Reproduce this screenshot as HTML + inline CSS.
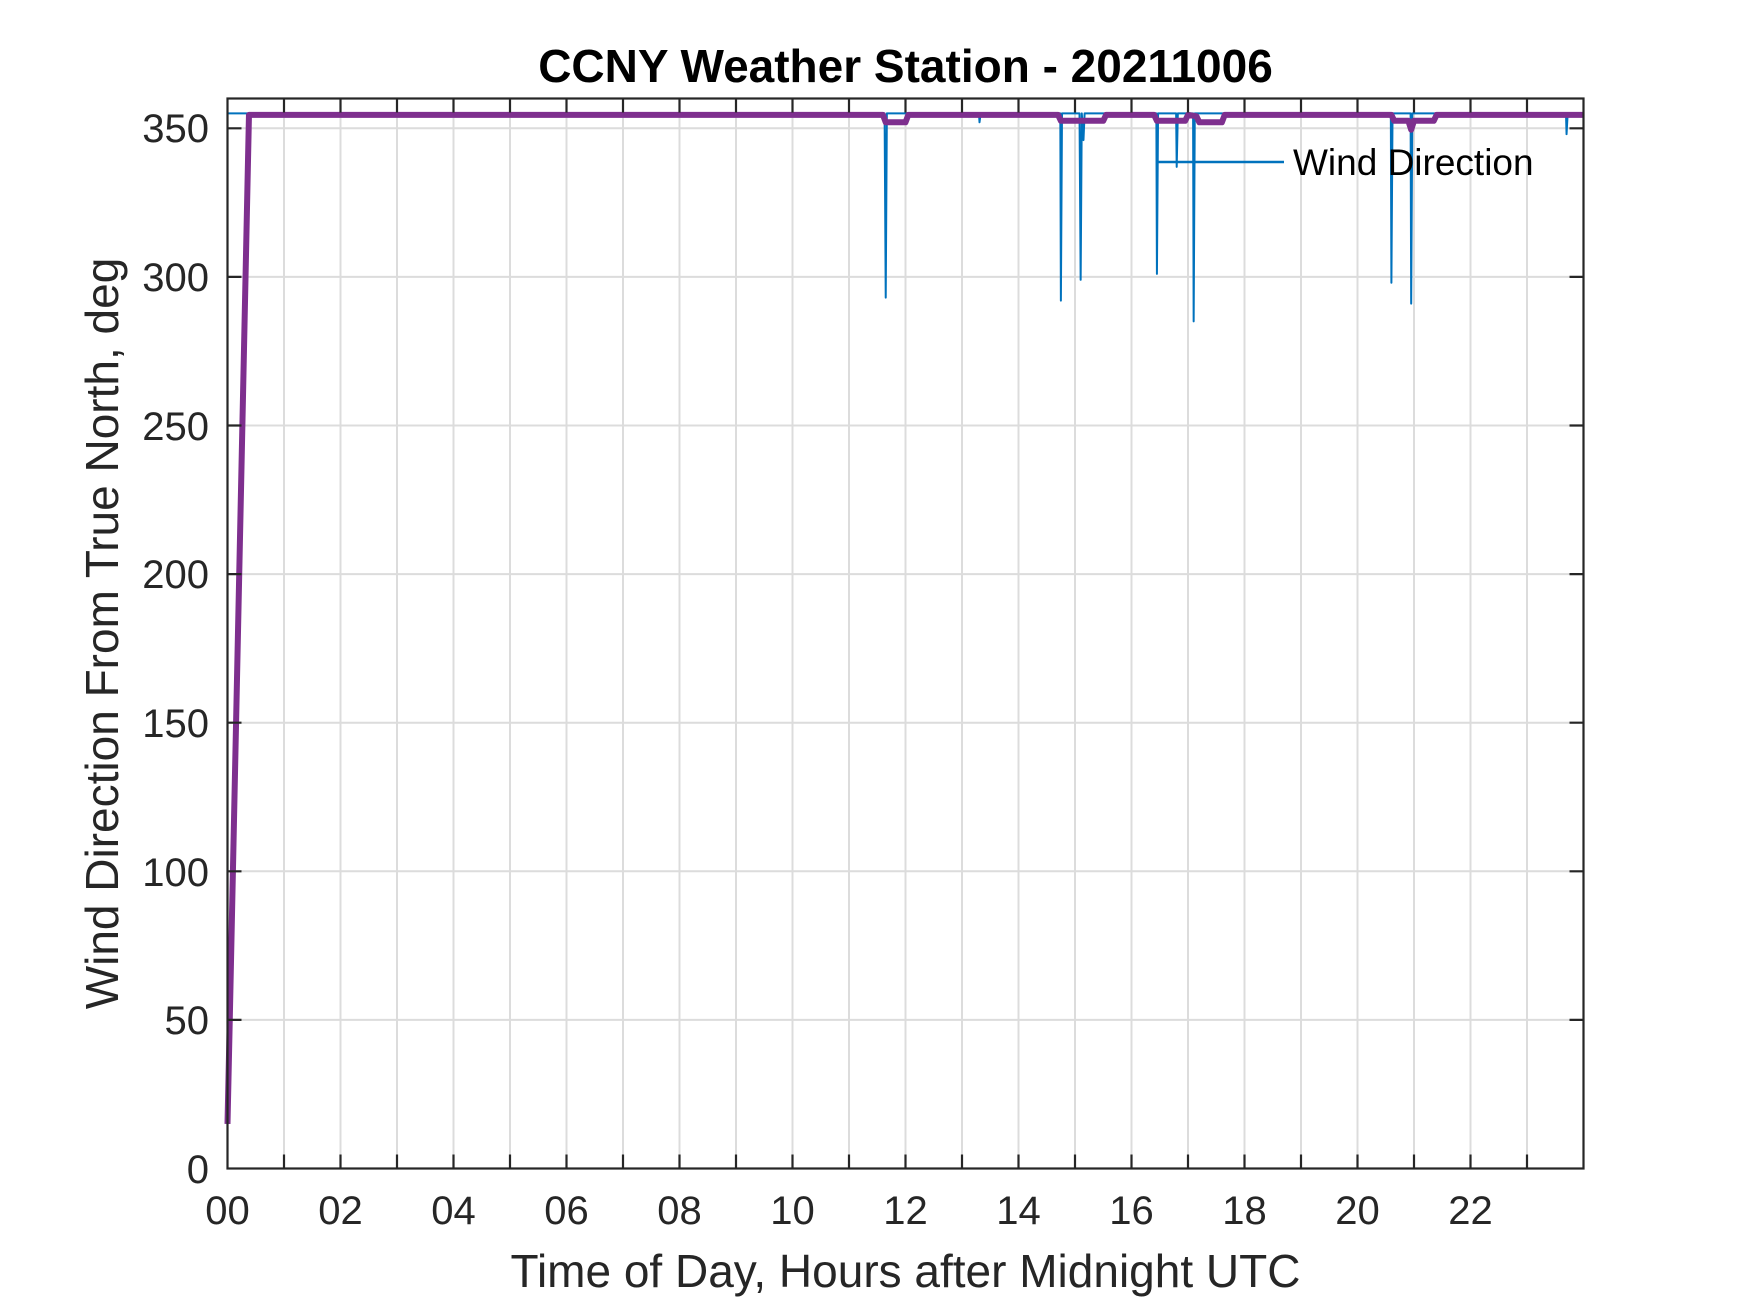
<!DOCTYPE html>
<html><head><meta charset="utf-8"><style>
html,body{margin:0;padding:0;background:#fff;}
svg{display:block;font-family:"Liberation Sans",Arial,sans-serif;}
</style></head><body>
<svg width="1750" height="1313" viewBox="0 0 1750 1313" xmlns="http://www.w3.org/2000/svg">
<rect width="1750" height="1313" fill="#fff"/>
<g stroke="#dcdcdc" stroke-width="2">
<path d="M284 98.5V1168.5M340.5 98.5V1168.5M397 98.5V1168.5M453.5 98.5V1168.5M510 98.5V1168.5M566.5 98.5V1168.5M623 98.5V1168.5M679.5 98.5V1168.5M736 98.5V1168.5M792.5 98.5V1168.5M849 98.5V1168.5M905.5 98.5V1168.5M962 98.5V1168.5M1018.5 98.5V1168.5M1075 98.5V1168.5M1131.5 98.5V1168.5M1188 98.5V1168.5M1244.5 98.5V1168.5M1301 98.5V1168.5M1357.5 98.5V1168.5M1414 98.5V1168.5M1470.5 98.5V1168.5M1527 98.5V1168.5"/>
<path d="M227.5 1019.9H1583.5M227.5 871.3H1583.5M227.5 722.7H1583.5M227.5 574.1H1583.5M227.5 425.5H1583.5M227.5 276.9H1583.5M227.5 128.3H1583.5"/>
</g>
<g transform="translate(227.5,1168.5) scale(56.5,-2.9722)" fill="none" stroke-linejoin="round">
<polyline vector-effect="non-scaling-stroke" stroke="#0072BD" stroke-width="2" points="0,355 0.4,355 11.63,355 11.65,293 11.67,355 13.3,355 13.31,352 13.33,355 14.74,355 14.75,292 14.77,355 15.08,355 15.1,299 15.12,355 15.15,346 15.17,355 16.44,355 16.45,301 16.47,355 16.79,355 16.8,337 16.82,355 17.09,355 17.1,285 17.12,355 20.59,355 20.6,298 20.62,355 20.94,355 20.95,291 20.97,355 23.69,355 23.7,348 23.72,355 24,355"/>
<polyline vector-effect="non-scaling-stroke" stroke="#7E2F8E" stroke-width="6" points="0,15 0.04,50 0.38,354.5 11.6,354.5 11.65,352 12.0,352 12.05,354.5 14.7,354.5 14.75,352.5 15.5,352.5 15.55,354.5 16.4,354.5 16.45,352.5 16.95,352.5 17.0,354.5 17.15,354 17.2,352 17.6,352 17.65,354.5 20.6,354.5 20.65,352.5 20.9,352.5 20.95,349.5 21.0,352.5 21.35,352.5 21.4,354.5 24,354.5"/>
</g>
<g stroke="#262626" stroke-width="2.2" fill="none">
<rect x="227.5" y="98.5" width="1356" height="1070"/>
<path d="M284 1168.5v-14M340.5 1168.5v-14M397 1168.5v-14M453.5 1168.5v-14M510 1168.5v-14M566.5 1168.5v-14M623 1168.5v-14M679.5 1168.5v-14M736 1168.5v-14M792.5 1168.5v-14M849 1168.5v-14M905.5 1168.5v-14M962 1168.5v-14M1018.5 1168.5v-14M1075 1168.5v-14M1131.5 1168.5v-14M1188 1168.5v-14M1244.5 1168.5v-14M1301 1168.5v-14M1357.5 1168.5v-14M1414 1168.5v-14M1470.5 1168.5v-14M1527 1168.5v-14"/>
<path d="M284 98.5v14M340.5 98.5v14M397 98.5v14M453.5 98.5v14M510 98.5v14M566.5 98.5v14M623 98.5v14M679.5 98.5v14M736 98.5v14M792.5 98.5v14M849 98.5v14M905.5 98.5v14M962 98.5v14M1018.5 98.5v14M1075 98.5v14M1131.5 98.5v14M1188 98.5v14M1244.5 98.5v14M1301 98.5v14M1357.5 98.5v14M1414 98.5v14M1470.5 98.5v14M1527 98.5v14"/>
<path d="M227.5 1019.9h14M227.5 871.3h14M227.5 722.7h14M227.5 574.1h14M227.5 425.5h14M227.5 276.9h14M227.5 128.3h14"/>
<path d="M1583.5 1019.9h-14M1583.5 871.3h-14M1583.5 722.7h-14M1583.5 574.1h-14M1583.5 425.5h-14M1583.5 276.9h-14M1583.5 128.3h-14"/>
</g>
<g fill="#262626" font-size="40" text-anchor="end">
<text x="209" y="1183">0</text>
<text x="209" y="1034">50</text>
<text x="209" y="886">100</text>
<text x="209" y="737">150</text>
<text x="209" y="588">200</text>
<text x="209" y="440">250</text>
<text x="209" y="291">300</text>
<text x="209" y="142">350</text>
</g>
<g fill="#262626" font-size="40" text-anchor="middle">
<text x="227.5" y="1224">00</text>
<text x="340.5" y="1224">02</text>
<text x="453.5" y="1224">04</text>
<text x="566.5" y="1224">06</text>
<text x="679.5" y="1224">08</text>
<text x="792.5" y="1224">10</text>
<text x="905.5" y="1224">12</text>
<text x="1018.5" y="1224">14</text>
<text x="1131.5" y="1224">16</text>
<text x="1244.5" y="1224">18</text>
<text x="1357.5" y="1224">20</text>
<text x="1470.5" y="1224">22</text>
</g>
<text x="905.5" y="1287" font-size="46" fill="#262626" text-anchor="middle">Time of Day, Hours after Midnight UTC</text>
<text transform="translate(118,633.5) rotate(-90)" font-size="46" fill="#262626" text-anchor="middle">Wind Direction From True North, deg</text>
<text x="905.5" y="82" font-size="46" font-weight="bold" fill="#000" text-anchor="middle">CCNY Weather Station - 20211006</text>
<line x1="1157" y1="162" x2="1284" y2="162" stroke="#0072BD" stroke-width="2.5"/>
<text x="1293" y="175" font-size="37" fill="#000">Wind Direction</text>
</svg>
</body></html>
